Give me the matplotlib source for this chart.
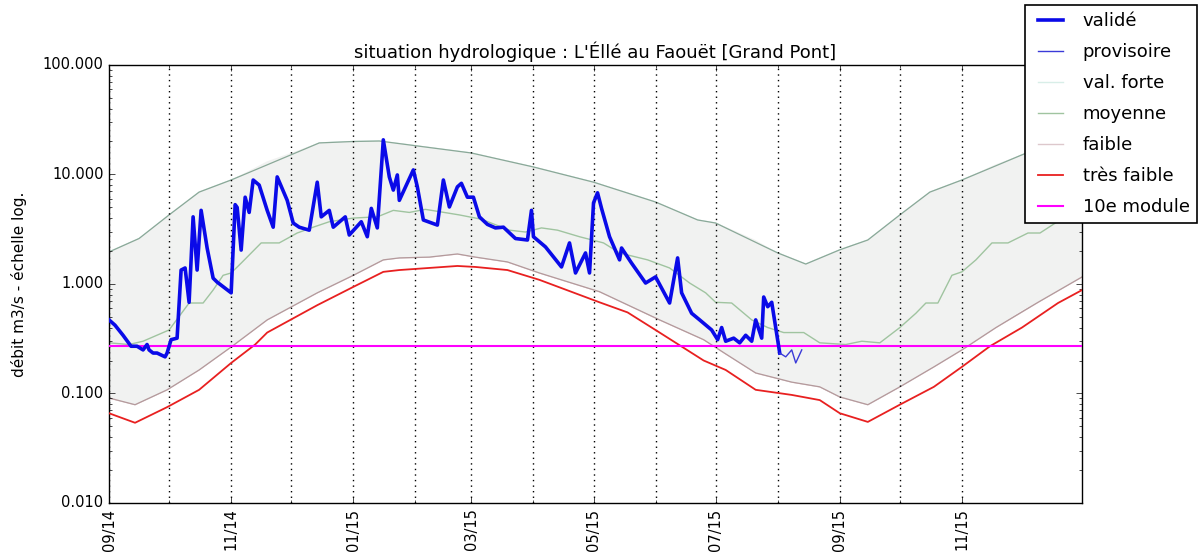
import matplotlib
matplotlib.use('Agg')
import matplotlib.pyplot as plt
import matplotlib.dates as mdates
from matplotlib.ticker import FormatStrFormatter, FixedLocator
import pandas as pd

# envelope curves (daily statistics)
forte_dates = ['2014-09-01', '2014-09-16', '2014-10-01', '2014-10-16', '2014-11-01',
               '2014-12-15', '2015-01-01', '2015-01-14', '2015-03-01', '2015-04-01',
               '2015-05-01', '2015-06-01', '2015-06-22', '2015-07-01', '2015-08-01',
               '2015-08-15', '2015-09-01', '2015-09-15', '2015-10-01', '2015-10-16',
               '2015-11-01', '2015-12-01', '2015-12-31']
forte_vals = [1.96, 2.6, 4.27, 6.9, 8.9, 19.4, 20.0, 20.2, 15.7, 11.7,
              8.5, 5.6, 3.84, 3.6, 1.92, 1.52, 2.05, 2.52, 4.27, 6.9,
              8.9, 15.1, 25.0]

moy_dates = ['2014-09-01', '2014-09-11', '2014-09-18', '2014-10-01', '2014-10-11',
             '2014-10-18', '2014-10-23', '2014-10-28', '2014-11-01', '2014-11-06',
             '2014-11-16', '2014-11-25', '2014-12-04', '2014-12-12', '2014-12-20',
             '2015-01-01', '2015-01-13', '2015-01-21', '2015-01-29', '2015-02-06',
             '2015-02-23', '2015-03-06', '2015-03-20', '2015-03-28', '2015-04-05',
             '2015-04-13', '2015-04-24', '2015-05-06', '2015-05-14', '2015-05-28',
             '2015-06-08', '2015-06-18', '2015-06-26', '2015-07-01', '2015-07-09',
             '2015-07-19', '2015-07-27', '2015-08-04', '2015-08-14', '2015-08-22',
             '2015-09-04', '2015-09-12', '2015-09-21', '2015-10-01', '2015-10-09',
             '2015-10-14', '2015-10-20', '2015-10-27', '2015-11-01', '2015-11-08',
             '2015-11-16', '2015-11-24', '2015-12-04', '2015-12-10', '2015-12-20',
             '2015-12-31']
moy_vals = [0.29, 0.28, 0.30, 0.38, 0.67, 0.67, 0.88, 1.2, 1.26, 1.55,
            2.37, 2.37, 2.92, 3.3, 3.7, 4.0, 4.1, 4.7, 4.5, 4.8,
            4.27, 3.9, 3.1, 2.98, 3.25, 3.1, 2.7, 2.37, 1.92, 1.66,
            1.4, 1.02, 0.83, 0.68, 0.67, 0.47, 0.40, 0.36, 0.36, 0.29,
            0.28, 0.30, 0.29, 0.40, 0.54, 0.67, 0.67, 1.2, 1.29, 1.66,
            2.37, 2.37, 2.92, 2.92, 3.84, 4.7]

faible_dates = ['2014-09-01', '2014-09-14', '2014-09-30', '2014-10-16', '2014-11-01',
                '2014-11-19', '2014-12-14', '2015-01-01', '2015-01-16', '2015-01-24',
                '2015-02-08', '2015-02-22', '2015-03-03', '2015-03-19', '2015-04-04',
                '2015-05-04', '2015-06-03', '2015-06-25', '2015-07-06', '2015-07-21',
                '2015-08-08', '2015-08-22', '2015-09-01', '2015-09-15', '2015-10-01',
                '2015-10-18', '2015-11-01', '2015-11-18', '2015-12-09', '2015-12-31']
faible_vals = [0.091, 0.079, 0.108, 0.164, 0.266, 0.47, 0.83, 1.2, 1.66, 1.73,
               1.76, 1.88, 1.76, 1.59, 1.26, 0.85, 0.47, 0.31, 0.23, 0.154,
               0.127, 0.115, 0.093, 0.079, 0.115, 0.175, 0.25, 0.40, 0.68, 1.16]

tf_dates = ['2014-09-01', '2014-09-14', '2014-09-30', '2014-10-16', '2014-11-01',
            '2014-11-13', '2014-11-19', '2014-12-14', '2015-01-01', '2015-01-16',
            '2015-01-24', '2015-02-22', '2015-03-03', '2015-03-19', '2015-04-04',
            '2015-05-04', '2015-05-18', '2015-06-03', '2015-06-25', '2015-07-06',
            '2015-07-21', '2015-08-08', '2015-08-22', '2015-09-01', '2015-09-15',
            '2015-10-01', '2015-10-18', '2015-11-01', '2015-11-15', '2015-12-01',
            '2015-12-19', '2015-12-31']
tf_vals = [0.066, 0.054, 0.075, 0.108, 0.19, 0.28, 0.36, 0.64, 0.94, 1.29,
           1.34, 1.46, 1.43, 1.34, 1.09, 0.68, 0.55, 0.36, 0.20, 0.164,
           0.108, 0.097, 0.087, 0.066, 0.055, 0.079, 0.115, 0.175, 0.27, 0.40,
           0.67, 0.88]

module10 = 0.272

# measured flows
valide_dates = ['2014-09-01', '2014-09-04', '2014-09-08', '2014-09-12', '2014-09-15',
                '2014-09-18', '2014-09-20', '2014-09-21', '2014-09-23', '2014-09-25',
                '2014-09-29', '2014-09-30', '2014-10-02', '2014-10-05', '2014-10-07',
                '2014-10-09', '2014-10-11', '2014-10-13', '2014-10-15', '2014-10-17',
                '2014-10-20', '2014-10-23', '2014-10-25', '2014-11-01', '2014-11-03',
                '2014-11-04', '2014-11-06', '2014-11-08', '2014-11-10', '2014-11-12',
                '2014-11-15', '2014-11-19', '2014-11-22', '2014-11-24', '2014-11-29',
                '2014-12-02', '2014-12-05', '2014-12-10', '2014-12-14', '2014-12-16',
                '2014-12-20', '2014-12-22', '2014-12-28', '2014-12-30', '2015-01-05',
                '2015-01-08', '2015-01-10', '2015-01-13', '2015-01-16', '2015-01-19',
                '2015-01-21', '2015-01-23', '2015-01-24', '2015-01-31', '2015-02-02',
                '2015-02-05', '2015-02-12', '2015-02-15', '2015-02-18', '2015-02-22',
                '2015-02-24', '2015-02-27', '2015-03-02', '2015-03-05', '2015-03-09',
                '2015-03-13', '2015-03-17', '2015-03-23', '2015-03-29', '2015-03-31',
                '2015-04-01', '2015-04-07', '2015-04-15', '2015-04-19', '2015-04-22',
                '2015-04-27', '2015-04-29', '2015-05-01', '2015-05-03', '2015-05-05',
                '2015-05-09', '2015-05-14', '2015-05-15', '2015-05-20', '2015-05-27',
                '2015-06-01', '2015-06-08', '2015-06-12', '2015-06-14', '2015-06-19',
                '2015-06-23', '2015-06-29', '2015-07-02', '2015-07-04', '2015-07-06',
                '2015-07-10', '2015-07-13', '2015-07-16', '2015-07-19', '2015-07-21',
                '2015-07-24', '2015-07-25', '2015-07-27', '2015-07-29', '2015-08-02']
valide_vals = [0.47, 0.42, 0.34, 0.27, 0.27, 0.25, 0.28, 0.25, 0.234, 0.234,
               0.216, 0.234, 0.31, 0.32, 1.34, 1.40, 0.68, 4.1, 1.34, 4.7,
               2.13, 1.13, 1.04, 0.83, 5.3, 5.0, 2.04, 6.2, 4.5, 8.9,
               8.0, 4.7, 3.3, 9.5, 5.8, 3.6, 3.3, 3.1, 8.5, 4.1,
               4.7, 3.3, 4.1, 2.8, 3.7, 2.7, 4.9, 3.25, 20.7, 9.5,
               7.2, 9.9, 5.8, 11.0, 7.7, 3.84, 3.45, 8.9, 5.05, 7.7,
               8.3, 6.2, 6.2, 4.1, 3.5, 3.25, 3.3, 2.6, 2.52, 4.7,
               2.7, 2.18, 1.43, 2.37, 1.26, 1.92, 1.26, 5.5, 6.8, 4.9,
               2.7, 1.66, 2.13, 1.55, 1.02, 1.16, 0.67, 1.73, 0.83, 0.54,
               0.47, 0.38, 0.31, 0.40, 0.30, 0.32, 0.29, 0.34, 0.30, 0.47,
               0.32, 0.76, 0.62, 0.68, 0.234]

provisoire_dates = ['2015-08-02', '2015-08-05', '2015-08-08', '2015-08-10', '2015-08-13']
provisoire_vals = [0.234, 0.216, 0.25, 0.19, 0.25]

# monthly grid lines (none drawn for 12/15 in the original)
grid_months = pd.date_range('2014-09-01', '2015-11-01', freq='MS')

plt.style.use('classic')
plt.rcParams['font.family'] = 'DejaVu Sans'

fig = plt.figure(figsize=(12.02, 5.58), dpi=100, facecolor='white')
ax = fig.add_axes([0.0907, 0.0986, 0.8095, 0.785])

fd = pd.to_datetime(forte_dates)
fbd = pd.to_datetime(faible_dates)
# interpolate both boundaries onto a common set of dates for the band
common = fd.union(fbd)
band_low = pd.Series(faible_vals, index=fbd).reindex(common).interpolate(method='time')
band_high = pd.Series(forte_vals, index=fd).reindex(common).interpolate(method='time')
ax.fill_between(common, band_low.values, band_high.values,
                facecolor='#f1f2f1', edgecolor='none', zorder=1)

ax.plot(pd.to_datetime(valide_dates), valide_vals, color='#0a0ae8', lw=2.6, label='validé', zorder=5)
ax.plot(pd.to_datetime(provisoire_dates), provisoire_vals, color='#3a3ad8', lw=1, label='provisoire', zorder=5)
ax.plot(fd, forte_vals, color='#d8eee8', lw=1, label='val. forte', zorder=0.5)
ax.plot(fd, forte_vals, color='#8aa898', lw=0.9, zorder=2)
ax.plot(pd.to_datetime(moy_dates), moy_vals, color='#a0c4a0', lw=1, label='moyenne', zorder=2)
ax.plot(fbd, faible_vals, color='#ddc8cc', lw=1, label='faible', zorder=0.5)
ax.plot(fbd, faible_vals, color='#b49a9c', lw=0.9, zorder=2)
ax.plot(pd.to_datetime(tf_dates), tf_vals, color='#e82020', lw=1.3, label='très faible', zorder=3)
ax.axhline(module10, color='#ff00ff', lw=1.5, label='10e module', zorder=4)

ax.set_yscale('log')
ax.set_ylim(0.01, 100)
ax.yaxis.set_major_formatter(FormatStrFormatter('%.3f'))
ax.set_xlim(pd.Timestamp('2014-09-01'), pd.Timestamp('2015-12-31'))
ax.xaxis.set_major_locator(mdates.MonthLocator(bymonth=[1, 3, 5, 7, 9, 11]))
ax.xaxis.set_minor_locator(FixedLocator(mdates.date2num(grid_months)))
ax.xaxis.set_major_formatter(mdates.DateFormatter('%m/%y'))
ax.grid(True, which='both', axis='x', color='black', linestyle=':', lw=1)
ax.grid(False, axis='y')
for lab in ax.get_xticklabels():
    lab.set_rotation(90)
ax.tick_params(axis='both', labelsize=10.5)

ax.set_title("situation hydrologique : L'Éllé au Faouët [Grand Pont]", fontsize=13)
ax.set_ylabel('débit m3/s - échelle log.', fontsize=11, labelpad=11)

leg = ax.legend(loc='upper right', bbox_to_anchor=(1197 / 1202, 1 - 5 / 558),
                bbox_transform=fig.transFigure, fontsize=13, borderaxespad=0,
                handlelength=2.0, labelspacing=0.72, fancybox=False)
leg.get_frame().set_edgecolor('black')
leg.get_frame().set_linewidth(1.2)

fig.savefig('out.png', dpi=100, facecolor='white')
